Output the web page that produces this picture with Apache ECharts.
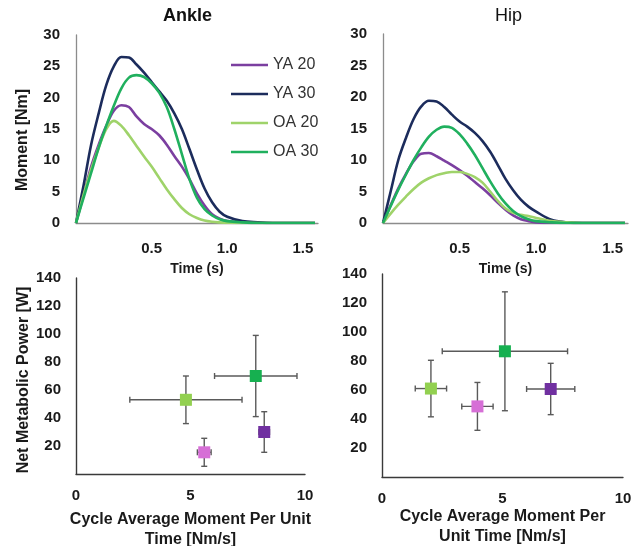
<!DOCTYPE html>
<html>
<head>
<meta charset="utf-8">
<script src="https://cdn.jsdelivr.net/npm/echarts@6/dist/echarts.min.js"></script>
<style>
  html, body { margin: 0; padding: 0; background: #ffffff; }
  #chart { width: 641px; height: 546px; }
</style>
</head>
<body>
<div id="chart"></div>
<script>
// Sample times (s) shared by all moment curves
const timeS = [0, 0.05, 0.1, 0.15, 0.2, 0.25, 0.3, 0.35, 0.4, 0.45, 0.5, 0.55, 0.6, 0.65, 0.7,
               0.75, 0.8, 0.85, 0.9, 0.95, 1.0, 1.1, 1.2, 1.3, 1.4, 1.5, 1.58];

// Ankle moment [Nm]
const ankleYA20 = [0, 4.5, 9, 12.5, 15.5, 17.9, 18.8, 18.5, 17, 15.8, 15, 14, 12.5, 10.7, 9, 7, 4.7, 2.8, 1.4, 0.7, 0.3, 0.1, 0, 0, 0, 0, 0];
const ankleYA30 = [0, 6, 12.5, 17.5, 22, 25, 26.5, 26.4, 25.3, 24, 22.5, 21, 19.5, 17.5, 15, 11.8, 8.5, 5.5, 3.3, 1.8, 1.0, 0.3, 0.1, 0, 0, 0, 0];
const ankleOA20 = [0, 4.5, 8.5, 12, 15, 16.3, 15.5, 14, 12.3, 10.6, 9, 7.2, 5.4, 3.8, 2.4, 1.4, 0.8, 0.4, 0.2, 0.1, 0.05, 0, 0, 0, 0, 0, 0];
const ankleOA30 = [0, 4, 8, 12, 15.5, 18.7, 21.5, 23.2, 23.6, 23.3, 22.3, 20.8, 18.5, 15, 11, 7, 4, 2.2, 1.2, 0.6, 0.3, 0.1, 0, 0, 0, 0, 0];

// Hip moment [Nm]
const hipYA20 = [0, 2.8, 5.5, 7.8, 9.8, 11, 11.1, 10.6, 9.9, 9.2, 8.4, 7.5, 6.5, 5.5, 4.4, 3.2, 2.1, 1.2, 0.6, 0.3, 0.1, 0, 0, 0, 0, 0, 0];
const hipYA30 = [0, 5, 10, 13.5, 16.5, 18.5, 19.4, 19.3, 18.4, 17.2, 16.1, 15.3, 14.3, 13, 11.3, 9.2, 7, 5.2, 3.7, 2.6, 1.8, 0.5, 0.1, 0, 0, 0, 0];
const hipOA20 = [0, 1.5, 2.9, 4.2, 5.4, 6.4, 7.1, 7.6, 7.9, 8.1, 8.1, 7.8, 7.3, 6.4, 5.0, 3.5, 2.3, 1.6, 1.3, 1.1, 0.8, 0.3, 0.1, 0, 0, 0, 0];
const hipOA30 = [0, 2.7, 5.3, 7.7, 10, 12, 13.7, 14.8, 15.3, 15.1, 14.1, 12.6, 10.8, 8.7, 6.6, 4.7, 3.1, 1.9, 1.1, 0.6, 0.3, 0.1, 0, 0, 0, 0, 0];

const groupNames = ['YA 20', 'YA 30', 'OA 20', 'OA 30'];
const groupColors = ['#7b3fa0', '#1c2c5c', '#9fd36a', '#20b05e'];

// Cycle average moment per unit time [Nm/s] vs net metabolic power [W]
const ankleMomentRate = [7.85, 4.80, 5.60, 8.22];
const ankleMomentRateErr = [1.8, 2.45, 0.3, 0.23];
const anklePower = [70, 53, 15.5, 30];
const anklePowerErr = [29, 17, 10, 14.5];

const hipMomentRate = [5.10, 2.03, 3.96, 7.0];
const hipMomentRateErr = [2.6, 0.65, 0.65, 1.0];
const hipPower = [86.7, 61, 48.7, 60.7];
const hipPowerErr = [41, 19.5, 16.5, 17.7];

const pointColors = ['#16b050', '#92d050', '#d66fd6', '#7030a0'];

// Tick labels
const timeTicks = ['0.5', '1.0', '1.5'];
const momentRateTicks = ['0', '5', '10'];

const FONT = 'Liberation Sans, Arial, sans-serif';

function pairs(xs, ys) { return xs.map((x, i) => [x, ys[i]]); }

function curveSeries(values, idx, axisIdx) {
  return {
    type: 'line', name: groupNames[idx], xAxisIndex: axisIdx, yAxisIndex: axisIdx,
    data: pairs(timeS, values), showSymbol: false, smooth: 0.35,
    lineStyle: { width: 2.6, color: groupColors[idx] }, itemStyle: { color: groupColors[idx] },
    z: 3
  };
}

function errorBarSeries(xs, xe, ys, ye, axisIdx) {
  const data = xs.map((x, i) => [x, ys[i], xe[i], ye[i]]);
  return {
    type: 'custom', xAxisIndex: axisIdx, yAxisIndex: axisIdx, data: data, z: 2,
    renderItem: function (params, api) {
      const x = api.value(0), y = api.value(1), dx = api.value(2), dy = api.value(3);
      const l = api.coord([x - dx, y]), r = api.coord([x + dx, y]);
      const t = api.coord([x, y + dy]), b = api.coord([x, y - dy]);
      const cap = 3;
      const st = { stroke: '#5a5a5a', lineWidth: 1.4 };
      const line = (x1, y1, x2, y2) => ({ type: 'line', shape: { x1, y1, x2, y2 }, style: st });
      return {
        type: 'group', children: [
          line(l[0], l[1], r[0], r[1]),
          line(t[0], t[1], b[0], b[1]),
          line(l[0], l[1] - cap, l[0], l[1] + cap),
          line(r[0], r[1] - cap, r[0], r[1] + cap),
          line(t[0] - cap, t[1], t[0] + cap, t[1]),
          line(b[0] - cap, b[1], b[0] + cap, b[1])
        ]
      };
    }
  };
}

function pointSeries(xs, ys, axisIdx) {
  return {
    type: 'scatter', xAxisIndex: axisIdx, yAxisIndex: axisIdx, symbol: 'rect', symbolSize: 12, z: 4,
    data: xs.map((x, i) => ({ value: [x, ys[i]], itemStyle: { color: pointColors[i], opacity: 1 } }))
  };
}

const boldLabel = { fontFamily: FONT, fontWeight: 'bold', fontSize: 15, color: '#1a1a1a' };

function timeAxis(gridIdx) {
  return {
    type: 'value', gridIndex: gridIdx, min: 0, max: 1.6, interval: 0.5,
    name: 'Time (s)', nameLocation: 'middle', nameGap: 39,
    nameTextStyle: { fontFamily: FONT, fontWeight: 'bold', fontSize: 14, color: '#1a1a1a' },
    axisLine: { lineStyle: { color: '#8c8c8c', width: 1.3 } },
    axisTick: { show: false }, splitLine: { show: false },
    axisLabel: Object.assign({ margin: 18, formatter: v => {
      const k = Math.round(v / 0.5);
      return (k >= 1 && Math.abs(v - k * 0.5) < 1e-6) ? timeTicks[k - 1] : '';
    } }, boldLabel)
  };
}

function momentAxis(gridIdx, withName) {
  return {
    type: 'value', gridIndex: gridIdx, min: 0, max: 30, interval: 5,
    name: withName ? 'Moment [Nm]' : '', nameLocation: 'middle', nameGap: 45,
    nameTextStyle: { fontFamily: FONT, fontWeight: 'bold', fontSize: 16, color: '#1a1a1a', padding: [0, 22, 0, 0] },
    axisLine: { show: true, lineStyle: { color: '#8c8c8c', width: 1.3 } },
    axisTick: { show: false }, splitLine: { show: false },
    axisLabel: Object.assign({ margin: 16 }, boldLabel)
  };
}

function rateAxis(gridIdx, name, gap) {
  return {
    type: 'value', gridIndex: gridIdx, min: 0, max: 10, interval: 5,
    name: name, nameLocation: 'middle', nameGap: gap,
    nameTextStyle: { fontFamily: FONT, fontWeight: 'bold', fontSize: 16, color: '#1a1a1a', lineHeight: 20 },
    axisLine: { lineStyle: { color: '#3a3a3a', width: 1.4 } },
    axisTick: { show: false }, splitLine: { show: false },
    axisLabel: Object.assign({ margin: 14, formatter: v => momentRateTicks[Math.round(v / 5)] || '' }, boldLabel)
  };
}

function powerAxis(gridIdx, withName) {
  return {
    type: 'value', gridIndex: gridIdx, min: 0, max: 140, interval: 20,
    name: withName ? 'Net Metabolic Power [W]' : '', nameLocation: 'middle', nameGap: 43,
    nameTextStyle: { fontFamily: FONT, fontWeight: 'bold', fontSize: 16, color: '#1a1a1a', padding: [0, 8, 0, 0] },
    axisLine: { show: true, lineStyle: { color: '#3a3a3a', width: 1.4 } },
    axisTick: { show: false }, splitLine: { show: false },
    axisLabel: Object.assign({ margin: 15, formatter: v => v === 0 ? '' : String(v) }, boldLabel)
  };
}

const chart = echarts.init(document.getElementById('chart'), null, { renderer: 'canvas' });

chart.setOption({
  backgroundColor: '#ffffff',
  animation: false,
  grid: [
    { left: 76, top: 35, width: 242, height: 188, outerBoundsMode: 'none' },
    { left: 383, top: 34, width: 245, height: 189, outerBoundsMode: 'none' },
    { left: 76, top: 278, width: 229, height: 196, outerBoundsMode: 'none' },
    { left: 382, top: 274, width: 241, height: 203, outerBoundsMode: 'none' }
  ],
  xAxis: [
    timeAxis(0), timeAxis(1),
    rateAxis(2, 'Cycle Average Moment Per Unit\nTime [Nm/s]', 36),
    rateAxis(3, 'Cycle Average Moment Per\nUnit Time [Nm/s]', 24)
  ],
  yAxis: [momentAxis(0, true), momentAxis(1, false), powerAxis(2, true), powerAxis(3, false)],
  legend: {
    data: groupNames, orient: 'vertical', left: 231, top: 57, padding: 0,
    icon: 'rect', itemWidth: 37, itemHeight: 2.5, itemGap: 13,
    textStyle: { fontFamily: FONT, fontSize: 16, color: '#333333' }
  },
  graphic: [
    { type: 'text', left: 163, top: 7, style: { text: 'Ankle', fontFamily: FONT, fontWeight: 'bold', fontSize: 18, fill: '#111' } },
    { type: 'text', left: 495, top: 7, style: { text: 'Hip', fontFamily: FONT, fontSize: 18, fill: '#111' } }
  ],
  series: [
    curveSeries(ankleYA20, 0, 0), curveSeries(ankleYA30, 1, 0),
    curveSeries(ankleOA20, 2, 0), curveSeries(ankleOA30, 3, 0),
    curveSeries(hipYA20, 0, 1), curveSeries(hipYA30, 1, 1),
    curveSeries(hipOA20, 2, 1), curveSeries(hipOA30, 3, 1),
    errorBarSeries(ankleMomentRate, ankleMomentRateErr, anklePower, anklePowerErr, 2),
    errorBarSeries(hipMomentRate, hipMomentRateErr, hipPower, hipPowerErr, 3),
    pointSeries(ankleMomentRate, anklePower, 2),
    pointSeries(hipMomentRate, hipPower, 3)
  ]
});
</script>
</body>
</html>
